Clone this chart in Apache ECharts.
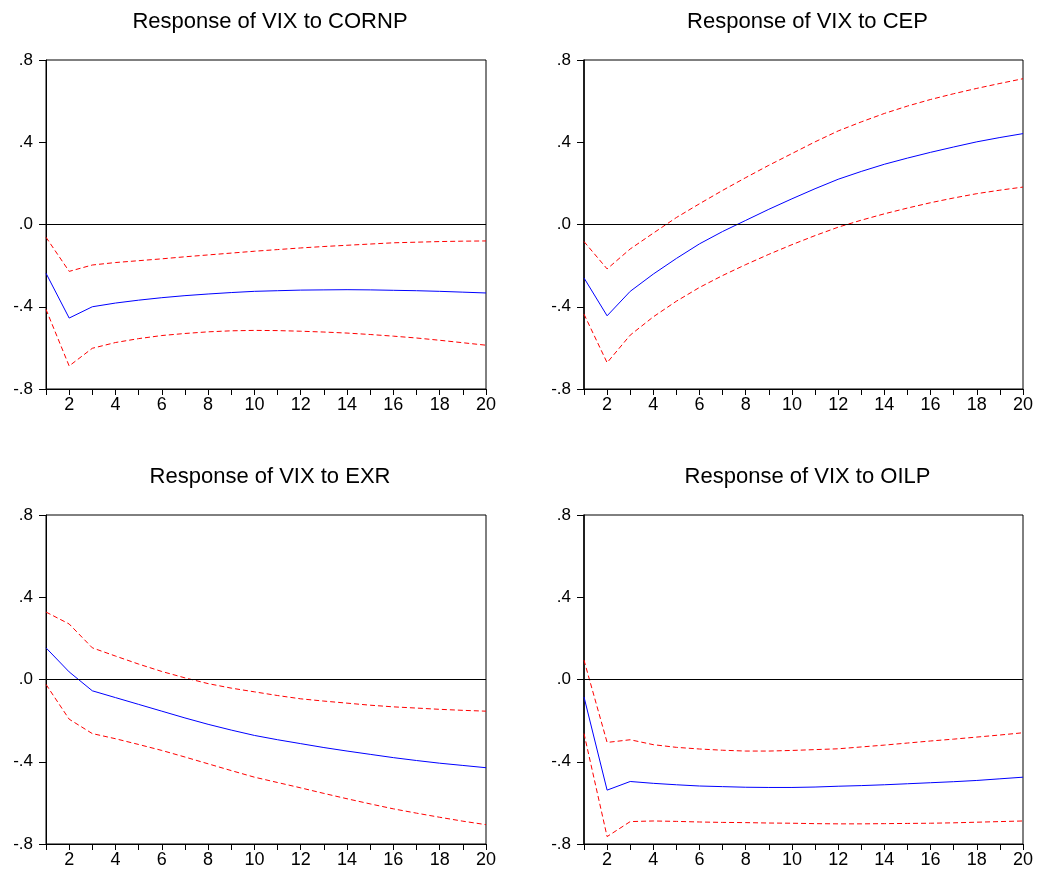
<!DOCTYPE html>
<html>
<head>
<meta charset="utf-8">
<script src="https://cdn.jsdelivr.net/npm/echarts@6/dist/echarts.min.js"></script>
<style>
html,body{margin:0;padding:0;background:#fff;}
#chart{width:1043px;height:880px;}
</style>
</head>
<body>
<div id="chart"></div>
<script>
// ---- data ----
var periods = [1,2,3,4,5,6,7,8,9,10,11,12,13,14,15,16,17,18,19,20];
var titles = ['Response of VIX to CORNP','Response of VIX to CEP','Response of VIX to EXR','Response of VIX to OILP'];
var yTickLabels = {'-0.8':'-.8','-0.4':'-.4','0':'.0','0.4':'.4','0.8':'.8'};

var cornpResp  = [-0.237,-0.455,-0.400,-0.382,-0.368,-0.356,-0.346,-0.338,-0.331,-0.325,-0.322,-0.319,-0.318,-0.317,-0.318,-0.320,-0.322,-0.325,-0.329,-0.333];
var cornpUpper = [-0.062,-0.228,-0.197,-0.185,-0.176,-0.167,-0.157,-0.148,-0.139,-0.130,-0.122,-0.114,-0.107,-0.101,-0.095,-0.089,-0.086,-0.083,-0.081,-0.080];
var cornpLower = [-0.413,-0.688,-0.602,-0.574,-0.555,-0.540,-0.530,-0.522,-0.517,-0.515,-0.516,-0.519,-0.523,-0.528,-0.535,-0.543,-0.552,-0.563,-0.575,-0.587];

var cepResp  = [-0.260,-0.444,-0.325,-0.241,-0.165,-0.094,-0.034,0.020,0.074,0.125,0.174,0.220,0.258,0.293,0.323,0.351,0.377,0.402,0.423,0.442];
var cepUpper = [-0.083,-0.216,-0.119,-0.042,0.034,0.101,0.166,0.228,0.288,0.345,0.402,0.455,0.499,0.540,0.576,0.608,0.636,0.662,0.686,0.709];
var cepLower = [-0.436,-0.672,-0.538,-0.449,-0.373,-0.306,-0.248,-0.195,-0.145,-0.098,-0.054,-0.013,0.021,0.052,0.080,0.106,0.129,0.150,0.167,0.182];

var exrResp  = [0.154,0.037,-0.055,-0.088,-0.121,-0.154,-0.187,-0.218,-0.246,-0.272,-0.293,-0.312,-0.331,-0.348,-0.364,-0.380,-0.394,-0.407,-0.418,-0.429];
var exrUpper = [0.328,0.270,0.154,0.114,0.075,0.039,0.008,-0.020,-0.042,-0.060,-0.078,-0.094,-0.105,-0.115,-0.125,-0.133,-0.139,-0.145,-0.150,-0.154];
var exrLower = [-0.024,-0.193,-0.263,-0.288,-0.316,-0.345,-0.377,-0.410,-0.443,-0.475,-0.501,-0.527,-0.554,-0.580,-0.605,-0.629,-0.650,-0.670,-0.689,-0.706];

var oilpResp  = [-0.085,-0.538,-0.496,-0.505,-0.512,-0.518,-0.521,-0.524,-0.525,-0.525,-0.523,-0.519,-0.516,-0.512,-0.507,-0.502,-0.497,-0.491,-0.483,-0.475];
var oilpUpper = [0.094,-0.306,-0.293,-0.317,-0.330,-0.338,-0.344,-0.348,-0.348,-0.345,-0.341,-0.337,-0.328,-0.319,-0.309,-0.299,-0.290,-0.280,-0.270,-0.259];
var oilpLower = [-0.263,-0.764,-0.691,-0.688,-0.690,-0.693,-0.695,-0.696,-0.698,-0.699,-0.701,-0.702,-0.702,-0.701,-0.700,-0.699,-0.697,-0.694,-0.691,-0.688];

// ---- layout ----
var FONT = '"Liberation Sans", Arial, sans-serif';
var grids = [
  {left:46, top:60, width:440, height:329},
  {left:584, top:60, width:439, height:329},
  {left:46, top:515, width:440, height:329},
  {left:584, top:515, width:439, height:329}
];
var panels = [
  [cornpResp, cornpUpper, cornpLower],
  [cepResp, cepUpper, cepLower],
  [exrResp, exrUpper, exrLower],
  [oilpResp, oilpUpper, oilpLower]
];

function pairs(arr){ return periods.map(function(p,i){ return [p, arr[i]]; }); }

var option = {
  backgroundColor:'#fff',
  animation:false,
  title:[], grid:[], xAxis:[], yAxis:[], series:[]
};

grids.forEach(function(g,i){
  option.title.push({
    text:titles[i],
    left:g.left + g.width/2 - 1,
    top:g.top - 54,
    textAlign:'center',
    textStyle:{fontFamily:FONT,fontSize:22,fontWeight:'normal',color:'#000'}
  });
  option.grid.push({left:g.left, top:g.top, width:g.width, height:g.height,
    show:true, borderColor:'#000', borderWidth:1, backgroundColor:'transparent', containLabel:false});
  option.xAxis.push({
    type:'value', gridIndex:i, min:1, max:20, interval:1,
    axisLine:{show:true,onZero:false,lineStyle:{color:'#000',width:1}},
    axisTick:{show:true,inside:false,length:6,lineStyle:{color:'#000'}},
    axisLabel:{margin:7,color:'#000',fontFamily:FONT,fontSize:18,
      formatter:function(v){ return (v % 2 === 0) ? String(v) : ''; }},
    splitLine:{show:false}
  });
  option.yAxis.push({
    type:'value', gridIndex:i, min:-0.8, max:0.8, interval:0.4,
    axisLine:{show:true,onZero:false,lineStyle:{color:'#000',width:(i % 2 === 1 ? 1.5 : 1)}},
    axisTick:{show:true,inside:false,length:7,lineStyle:{color:'#000'}},
    axisLabel:{margin:13,color:'#000',fontFamily:FONT,fontSize:17,
      formatter:function(v){ var k = String(Math.round(v*10)/10); return yTickLabels[k] !== undefined ? yTickLabels[k] : k; }},
    splitLine:{show:false}
  });
  var d = panels[i];
  option.series.push({
    type:'line', xAxisIndex:i, yAxisIndex:i, data:pairs(d[1]), symbol:'none', smooth:false,
    lineStyle:{color:'#ff0000',width:1,type:[5,3]}, z:3
  });
  option.series.push({
    type:'line', xAxisIndex:i, yAxisIndex:i, data:pairs(d[2]), symbol:'none', smooth:false,
    lineStyle:{color:'#ff0000',width:1,type:[5,3]}, z:3
  });
  option.series.push({
    type:'line', xAxisIndex:i, yAxisIndex:i, data:pairs(d[0]), symbol:'none', smooth:false,
    lineStyle:{color:'#0000ff',width:1}, z:4,
    markLine:{silent:true, symbol:'none', label:{show:false},
      lineStyle:{color:'#000',width:1,type:'solid'}, data:[{yAxis:0}]}
  });
});

var chart = echarts.init(document.getElementById('chart'), null, {renderer:'canvas'});
chart.setOption(option);
</script>
</body>
</html>
